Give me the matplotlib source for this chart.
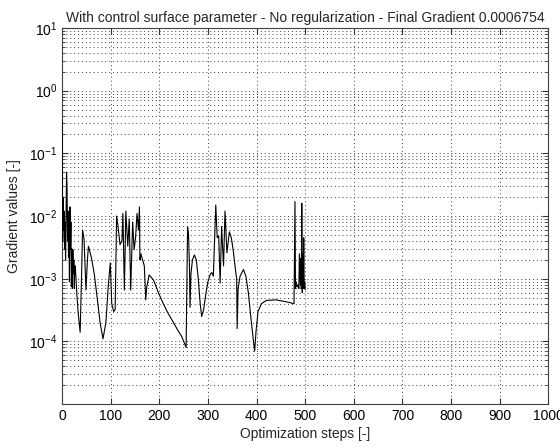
import matplotlib
matplotlib.use("Agg")
import matplotlib.pyplot as plt
import numpy as np

plt.rcParams['font.family'] = ['Liberation Sans', 'DejaVu Sans']

# values (10 per row in both lists)
steps = [0, 1, 2, 3, 4, 5, 6, 7, 8, 9,
         10, 11, 12, 13, 14, 15, 16, 17, 18, 19,
         20, 21, 22, 23, 24, 25, 26, 27, 30, 33,
         37, 40, 42, 45, 49, 52, 54, 60, 66, 72,
         78, 84, 90, 95, 99, 102, 106, 109, 112, 115,
         119, 123, 125, 128, 131, 135, 138, 141, 145, 148,
         151, 154, 157, 159, 160, 162, 164, 167, 169, 172,
         174, 179, 188, 198, 208, 218, 229, 238, 246, 255,
         258, 260, 262, 263, 265, 268, 272, 276, 280, 284,
         287, 291, 296, 300, 305, 308, 311, 316, 319, 322,
         325, 328, 332, 335, 339, 344, 348, 352, 356, 359,
         360, 362, 366, 373, 378, 383, 388, 393, 396, 399,
         403, 410, 420, 440, 460, 477, 478, 479, 480, 481,
         483, 485, 487, 488, 490, 491, 492, 493, 494, 495,
         496, 497, 498, 499, 500]
grad = [0.33, 0.004, 0.02, 0.006, 0.012, 0.003, 0.008, 0.002, 0.01, 0.05,
        0.03, 0.004, 0.012, 0.0022, 0.006, 0.0009, 0.014, 0.003, 0.008, 0.00075,
        0.003, 0.0007, 0.0029, 0.0012, 0.002, 0.0007, 0.0016, 0.0016, 0.0006, 0.00028,
        0.00014, 0.0012, 0.006, 0.0043, 0.00066, 0.002, 0.0033, 0.0022, 0.0012, 0.0005,
        0.0002, 0.00011, 0.0002, 0.0008, 0.0018, 0.0004, 0.0003, 0.00032, 0.01, 0.0068,
        0.0035, 0.004, 0.011, 0.00066, 0.012, 0.0033, 0.009, 0.00066, 0.008, 0.0029,
        0.0045, 0.011, 0.006, 0.014, 0.002, 0.0025, 0.0022, 0.0018, 0.0016, 0.00046,
        0.00074, 0.00115, 0.00095, 0.0006, 0.0004, 0.00028, 0.0002, 0.00015, 0.00012, 0.00008,
        0.0067, 0.005, 0.0015, 0.00035, 0.0012, 0.002, 0.0024, 0.002, 0.001, 0.0004,
        0.00025, 0.00032, 0.0006, 0.0009, 0.0012, 0.00125, 0.0011, 0.015, 0.0045, 0.0048,
        0.00085, 0.0068, 0.0016, 0.012, 0.0026, 0.0056, 0.0045, 0.0028, 0.0015, 0.001,
        0.00016, 0.0007, 0.0011, 0.0014, 0.0011, 0.0006, 0.00025, 0.00011, 0.00007, 0.00015,
        0.0003, 0.0004, 0.00045, 0.00046, 0.00043, 0.0004, 0.0024, 0.017, 0.0007, 0.0009,
        0.00074, 0.0008, 0.0007, 0.0025, 0.0008, 0.0021, 0.0007, 0.016, 0.0006, 0.0025,
        0.0007, 0.0045, 0.0007, 0.0009, 0.000675]

fs = 10
fig = plt.figure(figsize=(5.6, 4.48), dpi=100)
ax = fig.add_axes([0.111, 0.098, 0.868, 0.8395])
ax.semilogy(steps, grad, color='black', lw=0.8, zorder=3)

ax.set_xlim(0, 1000)
ax.set_ylim(1e-5, 10)
ax.set_xticks(np.arange(0, 1001, 100))
ax.set_yticks([1e-4, 1e-3, 1e-2, 1e-1, 1e0, 1e1])
ax.tick_params(which='both', direction='in', top=True, right=True, labelsize=fs,
               color='0.2')
ax.tick_params(which='major', length=4)
ax.tick_params(which='minor', length=2)
grid_style = dict(linestyle=(0, (1, 3)), color='0.25', lw=0.7)
ax.grid(True, which='major', axis='both', **grid_style)
ax.grid(True, which='minor', axis='y', **grid_style)
for s in ax.spines.values():
    s.set_color('0.25')

ax.set_title("With control surface parameter - No regularization - Final Gradient 0.0006754",
             fontsize=fs, pad=4, color='0.15')
ax.set_xlabel("Optimization steps [-]", fontsize=fs, labelpad=3, color='0.15')
ax.set_ylabel("Gradient values [-]", fontsize=fs, labelpad=6, color='0.15')

plt.savefig("out.png", dpi=100)
